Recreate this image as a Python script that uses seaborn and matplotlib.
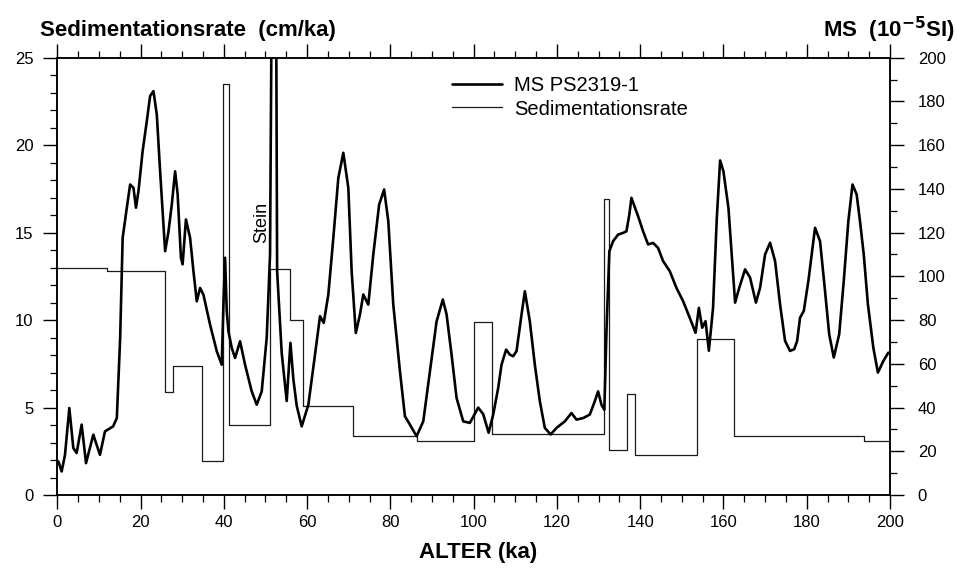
import matplotlib
matplotlib.use("Agg")
import matplotlib.pyplot as plt
from matplotlib.lines import Line2D
from matplotlib.ticker import MultipleLocator
import numpy as np
import pandas as pd
import seaborn as sns

# Magnetic susceptibility record of core PS2319-1 (10^-5 SI) against age (ka)
ms_age = [0.25, 1.05, 1.85, 2.89, 3.85, 4.65, 5.85, 6.9, 8.65, 10.25, 11.45, 13.4, 14.3,
          15.1, 15.7, 16.7, 17.5, 18.3, 18.9, 19.5, 20.5, 21.5, 22.3, 23.1, 23.9, 24.7,
          25.9, 26.7, 27.5, 28.3, 28.9, 29.7, 30.1, 30.9, 31.9, 32.7, 33.5, 34.3, 35.1,
          36.7, 38.3, 39.5, 39.9, 40.3, 40.7, 41.1, 41.9, 42.7, 43.9, 45.1, 46.7, 47.9,
          49.1, 50.3, 51.1, 51.6, 52.5, 52.8, 53.9, 55.1, 56.0, 56.7, 57.5, 58.7, 60.3,
          61.9, 63.1, 64.0, 65.1, 66.3, 67.5, 68.7, 69.9, 70.7, 71.7, 72.7, 73.5, 74.7,
          75.9, 77.3, 78.5, 79.5, 80.7, 82.3, 83.5, 84.7, 86.3, 87.9, 89.5, 91.1, 92.6,
          93.5, 94.7, 95.9, 97.5, 99.1, 101.1, 102.3, 103.6, 104.7, 105.9, 106.7, 107.8,
          108.7, 109.5, 110.3, 111.5, 112.3, 113.5, 114.7, 115.9, 117.1, 118.5, 119.9,
          121.9, 123.5, 124.7, 126.3, 127.9, 129.1, 129.9, 130.7, 131.4, 131.9, 132.6,
          133.5, 134.7, 135.9, 136.7, 137.4, 137.9, 138.5, 139.5, 140.7, 141.9, 143.1,
          144.3, 145.5, 147.1, 148.7, 150.3, 151.9, 153.3, 154.1, 154.9, 155.7, 156.5,
          157.5, 158.4, 159.2, 160.0, 161.2, 162.0, 162.8, 163.8, 165.2, 166.4, 167.8,
          168.8, 170.0, 171.2, 172.4, 173.6, 174.8, 176.0, 177.0, 177.7, 178.4, 179.3,
          180.4, 182.0, 183.2, 184.4, 185.4, 186.5, 187.8, 188.9, 190.0, 191.0, 192.0,
          192.8, 193.7, 194.7, 196.0, 197.1, 198.4, 199.6]
ms_value = [15.4, 10.8, 18.4, 39.8, 21.5, 19.2, 32.2, 14.6, 27.6, 18.4, 29.1, 31.4, 35.2,
            71.9, 117.6, 131.4, 142, 140.5, 131.4, 139, 157.3, 171, 182.5, 184.7, 174, 148,
            111.5, 120.4, 132.8, 148, 137.7, 108.5, 105.5, 126, 117.6, 102.4, 88.6, 94.7, 91.6,
            77.9, 65.8, 59.6, 87.1, 108.5, 84.1, 74.9, 67.3, 62.7, 70.3, 59.6, 47.4, 41.3,
            47.4, 71.9, 110, 260, 260, 102.4, 65, 43, 69.6, 53, 40.9, 31.4, 41.3,
            64.2, 81.8, 78.7, 91.7, 117.6, 145, 156.5, 140.5, 102.4, 74.1, 82.6, 91.7, 87.1,
            110, 132.8, 139.7, 125.3, 87.1, 56.6, 36, 32.2, 26.9, 33.7, 56.6, 79.4, 89.4,
            82.6, 64.2, 44.4, 33.7, 33, 40, 37, 28.5, 36.8, 49, 59.6, 66.5,
            64.2, 63.5, 65.8, 82.5, 93.2, 79.4, 59.6, 42.9, 30.7, 27.7, 30.7,
            33.7, 37.5, 34.5, 35.2, 36.8, 42.9, 47.4, 41.3, 39, 74.9, 111.5,
            116.1, 119.1, 119.9, 120.6, 128.3, 135.9, 132.8, 127.5, 120.6, 114.6, 115.3,
            113, 107, 102.4, 94.8, 88.7, 81.1, 74.2, 85.6, 76.5, 79.5, 66,
            85.5, 126.5, 153, 148, 131.3, 110, 88, 94.8, 103.2, 99.4, 88,
            94.8, 110, 115.4, 107, 87.2, 70.5, 65.9, 66.7, 70.5, 81.1, 84.2,
            97.9, 122.2, 116.1, 93.3, 73.5, 62.9, 73.5, 97.9, 125.2, 142, 137.4,
            125.2, 110, 87.2, 67.4, 56, 61.3, 65.1]

# Sedimentation rate (cm/ka) as a step function: each rate holds from its start age on
sed_start = [0, 11.9, 25.9, 27.7, 34.7, 39.7, 41.3, 51.2, 56.0, 59.1, 71.1, 86.3, 100.1,
             104.3, 131.4, 132.6, 136.9, 138.8, 153.7, 162.6, 193.7, 200]
sed_rate = [13.0, 12.8, 5.9, 7.4, 1.95, 23.5, 4.0, 12.9, 10.0, 5.1, 3.4, 3.1, 9.9,
            3.5, 16.9, 2.6, 5.8, 2.3, 8.9, 3.4, 3.1, 3.1]

ms_df = pd.DataFrame({"age": ms_age, "ms": ms_value})
sed_df = pd.DataFrame({"age": sed_start, "rate": sed_rate})

sns.set_style("ticks")
plt.rcParams["font.family"] = ["Liberation Sans", "DejaVu Sans"]
plt.rcParams["mathtext.default"] = "regular"
plt.rcParams["text.color"] = "black"
plt.rcParams["axes.labelcolor"] = "black"
plt.rcParams["xtick.color"] = "black"
plt.rcParams["ytick.color"] = "black"

fig = plt.figure(figsize=(9.58, 5.71), dpi=100)
ax = fig.add_axes([0.0598, 0.133, 0.8692, 0.766])
ax2 = ax.twinx()

sns.lineplot(data=sed_df, x="age", y="rate", ax=ax, drawstyle="steps-post",
             color="#1a1a1a", linewidth=0.9, estimator=None, sort=False)
sns.lineplot(data=ms_df, x="age", y="ms", ax=ax2, color="black",
             linewidth=1.9, estimator=None, sort=False)

ax.set_xlim(0, 200)
ax.set_ylim(0, 25)
ax2.set_ylim(0, 200)
ax.set_xlabel("")
ax.set_ylabel("")
ax2.set_ylabel("")

ax.xaxis.set_major_locator(MultipleLocator(20))
ax.xaxis.set_minor_locator(MultipleLocator(5))
ax.yaxis.set_major_locator(MultipleLocator(5))
ax.yaxis.set_minor_locator(MultipleLocator(1))
ax2.yaxis.set_major_locator(MultipleLocator(20))
ax2.yaxis.set_minor_locator(MultipleLocator(10))

for a in (ax, ax2):
    for s in a.spines.values():
        s.set_visible(True)
        s.set_linewidth(1.1)
        s.set_color("black")

ax.tick_params(axis="x", which="both", direction="out", top=True, bottom=True,
               labeltop=False, labelsize=12, colors="black", pad=4)
ax.tick_params(axis="x", which="major", length=10, width=1.0)
ax.tick_params(axis="x", which="minor", length=5, width=0.9)
ax.tick_params(axis="y", which="both", direction="out", left=True, right=False,
               labelsize=12, colors="black", pad=7)
ax.tick_params(axis="y", which="major", length=10, width=1.0)
ax.tick_params(axis="y", which="minor", length=5, width=0.9)
ax2.tick_params(axis="y", which="both", direction="out", right=True, left=False,
                labelsize=12, colors="black", pad=10)
ax2.tick_params(axis="y", which="major", length=10, width=1.0)
ax2.tick_params(axis="y", which="minor", length=5, width=0.9)

ax.text(49.2, 15.6, "Stein", rotation=90, ha="center", va="center", fontsize=13)

fig.text(0.042, 0.947, "Sedimentationsrate  (cm/ka)", ha="left", va="center",
         fontsize=16, fontweight="bold")
fig.text(0.997, 0.947, r"MS  (10$^{\mathbf{-5}}$SI)", ha="right", va="center",
         fontsize=16, fontweight="bold")
fig.text(0.499, 0.032, "ALTER (ka)", ha="center", va="center",
         fontsize=16, fontweight="bold")

handles = [Line2D([], [], color="black", linewidth=1.9),
           Line2D([], [], color="#1a1a1a", linewidth=0.9)]
ax2.legend(handles, ["MS PS2319-1", "Sedimentationsrate"], loc="upper left",
           bbox_to_anchor=(0.474, 0.957), frameon=False, fontsize=14.5,
           handlelength=2.5, handletextpad=0.6, labelspacing=0.2, borderpad=0,
           borderaxespad=0)

fig.savefig("out.png", dpi=100)
